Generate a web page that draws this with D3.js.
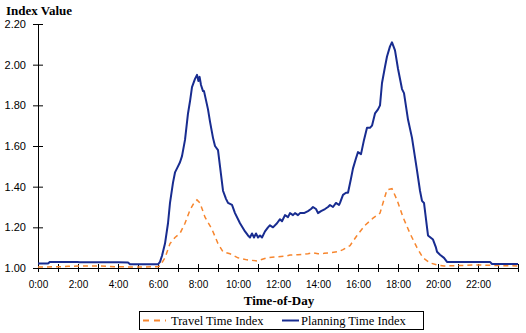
<!DOCTYPE html>
<html><head><meta charset="utf-8">
<script src="https://cdn.jsdelivr.net/npm/d3@7"></script>
<style>body{margin:0;background:#fff}svg{display:block}</style>
</head><body>
<script>
// Data (hours of day, index values)
const ptiHours = [0,0.5,0.6,1.0,2.0,2.05,3.0,4.0,4.5,4.6,5.0,6.0,6.1,6.2,6.35,6.5,6.6,6.75,6.85,6.95,7.1,7.2,7.35,7.5,7.6,7.7,7.85,7.95,8.02,8.08,8.15,8.25,8.3,8.5,8.6,8.75,8.85,9.0,9.1,9.25,9.4,9.5,9.7,9.85,10.1,10.35,10.5,10.6,10.7,10.8,10.9,11.0,11.1,11.2,11.35,11.5,11.6,11.75,11.95,12.1,12.2,12.35,12.5,12.6,12.75,12.85,13.0,13.1,13.3,13.5,13.65,13.75,13.9,14.0,14.15,14.35,14.5,14.6,14.75,14.9,15.05,15.1,15.25,15.4,15.5,15.65,15.75,15.9,16.0,16.15,16.3,16.45,16.6,16.7,16.85,17.0,17.1,17.2,17.35,17.45,17.6,17.7,17.85,18.0,18.2,18.3,18.5,18.7,18.95,19.1,19.2,19.3,19.45,19.5,19.75,19.9,19.95,20.1,20.3,20.45,21,22,22.6,22.7,24];
const ptiValues = [1.022,1.022,1.03,1.03,1.03,1.028,1.028,1.028,1.027,1.018,1.018,1.018,1.03,1.06,1.12,1.22,1.32,1.42,1.47,1.49,1.52,1.55,1.63,1.76,1.82,1.89,1.93,1.95,1.92,1.94,1.90,1.87,1.87,1.78,1.72,1.64,1.60,1.58,1.50,1.38,1.34,1.32,1.31,1.27,1.22,1.18,1.16,1.15,1.17,1.15,1.17,1.15,1.16,1.15,1.18,1.20,1.21,1.20,1.22,1.24,1.23,1.26,1.25,1.27,1.26,1.27,1.26,1.27,1.27,1.28,1.29,1.30,1.29,1.27,1.28,1.29,1.30,1.31,1.30,1.32,1.31,1.32,1.36,1.37,1.37,1.44,1.49,1.54,1.57,1.56,1.63,1.69,1.69,1.70,1.76,1.78,1.80,1.91,1.99,2.04,2.09,2.11,2.07,1.98,1.88,1.86,1.73,1.64,1.48,1.38,1.33,1.32,1.20,1.16,1.14,1.10,1.08,1.065,1.05,1.03,1.03,1.03,1.03,1.02,1.02];
const ttiHours = [0,1,1.5,2,3,3.5,4,5,6,6.1,6.35,6.6,6.85,7.1,7.35,7.6,7.8,7.95,8.1,8.35,8.7,9.0,9.25,9.6,10.0,10.45,10.95,11.45,11.95,12.45,12.6,13.0,13.5,13.75,14.0,14.3,14.6,15.0,15.25,15.6,15.95,16.35,16.75,17.1,17.25,17.45,17.7,17.95,18.25,18.6,18.95,19.25,19.6,19.95,20.3,21,22,23,24];
const ttiValues = [1.005,1.006,1.008,1.01,1.01,1.008,1.006,1.005,1.006,1.01,1.05,1.12,1.15,1.17,1.22,1.285,1.32,1.335,1.32,1.25,1.19,1.12,1.08,1.07,1.05,1.04,1.035,1.05,1.055,1.06,1.064,1.065,1.07,1.075,1.07,1.072,1.075,1.08,1.09,1.11,1.16,1.21,1.245,1.27,1.32,1.385,1.39,1.335,1.25,1.17,1.10,1.05,1.025,1.015,1.01,1.012,1.015,1.012,1.01];
const yTicks = [1.0,1.2,1.4,1.6,1.8,2.0,2.2];
const xTicks = d3.range(0,25,1);
const xLabelHours = [0,2,4,6,8,10,12,14,16,18,20,22];
const seriesNames = ["Travel Time Index","Planning Time Index"];

const W=526,H=333;
const svg=d3.select("body").append("svg").attr("width",W).attr("height",H);
svg.append("rect").attr("width",W).attr("height",H).attr("fill","#fff");
const x=d3.scaleLinear().domain([0,24]).range([38,518]);
const y=d3.scaleLinear().domain([1,2.2]).range([268,24]);

// y axis
const ya=svg.append("g").attr("transform",`translate(${x(0)},0)`)
  .call(d3.axisLeft(y).tickValues(yTicks).tickFormat(d3.format(".2f")).tickSize(5).tickPadding(7));
ya.select(".domain").attr("stroke","#000");
ya.selectAll(".tick line").attr("x1",-5).attr("x2",5).attr("stroke","#000");
ya.selectAll("text").attr("font-family","Liberation Sans, Arial, sans-serif").attr("font-size",11).attr("fill","#000");

// x axis
const xa=svg.append("g").attr("transform",`translate(0,${y(1)})`)
  .call(d3.axisBottom(x).tickValues(xTicks).tickSize(4).tickPadding(9)
    .tickFormat(d=>xLabelHours.includes(d)?d+":00":""));
xa.select(".domain").attr("stroke","#000");
xa.selectAll(".tick line").attr("y1",-4).attr("y2",4).attr("stroke","#000");
xa.selectAll("text").attr("font-family","Liberation Sans, Arial, sans-serif").attr("font-size",10).attr("fill","#000");

const line=d3.line().x(d=>x(d[0])).y(d=>y(d[1]));
svg.append("path").datum(ttiHours.map((h,i)=>[h,ttiValues[i]]))
  .attr("d",line).attr("fill","none").attr("stroke","#f7862e").attr("stroke-width",1.5).attr("stroke-dasharray","5,4");
svg.append("path").datum(ptiHours.map((h,i)=>[h,ptiValues[i]]))
  .attr("d",line).attr("fill","none").attr("stroke","#182c90").attr("stroke-width",2).attr("stroke-linejoin","round");

// titles
svg.append("text").attr("x",6).attr("y",15).text("Index Value")
  .attr("font-family","Liberation Serif, Times New Roman, serif").attr("font-weight","bold").attr("font-size",13);
svg.append("text").attr("x",279).attr("y",305).attr("text-anchor","middle").text("Time-of-Day")
  .attr("font-family","Liberation Serif, Times New Roman, serif").attr("font-weight","bold").attr("font-size",13);

// legend
const lg=svg.append("g");
lg.append("rect").attr("x",139.5).attr("y",311.5).attr("width",284).attr("height",18).attr("fill","#fff").attr("stroke","#000");
lg.append("line").attr("x1",143).attr("x2",166).attr("y1",320.5).attr("y2",320.5).attr("stroke","#f7862e").attr("stroke-width",2).attr("stroke-dasharray","6,5");
lg.append("text").attr("x",171).attr("y",325).text(seriesNames[0]).attr("font-family","Liberation Serif, Times New Roman, serif").attr("font-size",12.5);
lg.append("line").attr("x1",282).attr("x2",299).attr("y1",320.5).attr("y2",320.5).attr("stroke","#182c90").attr("stroke-width",2);
lg.append("text").attr("x",301).attr("y",325).text(seriesNames[1]).attr("font-family","Liberation Serif, Times New Roman, serif").attr("font-size",12.5);
</script>
</body></html>
